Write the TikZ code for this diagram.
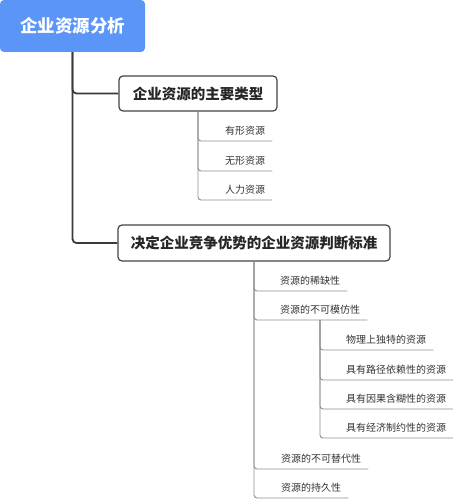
\documentclass[tikz,border=0pt]{standalone}
\usepackage{fontspec}
\setmainfont{Noto Sans CJK SC}
\definecolor{rootblue}{HTML}{5B95F7}
\definecolor{boxline}{HTML}{444444}
\definecolor{mainline}{HTML}{3A3A3A}
\definecolor{subline}{HTML}{8E8E8E}
\definecolor{itemtext}{HTML}{333333}
\tikzset{
  rootbox/.style={fill=rootblue, draw=none, rounded corners=4pt, text=white,
    font=\fontsize{17.5}{20}\selectfont\bfseries, minimum width=145pt, minimum height=52pt, inner sep=0pt},
  topicbox/.style={draw=boxline, line width=1.2pt, fill=white, rounded corners=4pt, text=black!85,
    font=\fontsize{14.5}{17}\selectfont\bfseries, inner sep=0pt},
  item/.style={anchor=south west, text=itemtext, font=\fontsize{10}{12}\selectfont,
    text height=9pt, text depth=6pt, inner ysep=0pt, inner xsep=7pt},
  mainconn/.style={draw=mainline, line width=1.8pt, rounded corners=4pt},
  subconn/.style={draw=subline, line width=0.9pt, rounded corners=3pt},
}
\begin{document}
\begin{tikzpicture}[x=1pt,y=1pt]
\useasboundingbox (0,0) rectangle (452,-500);
% main nodes
\node[rootbox] (root) at (72.5,-26) {企业资源分析};
\node[topicbox, minimum width=158pt, minimum height=35pt] (b1) at (198,-93.5) {企业资源的主要类型};
\node[topicbox, minimum width=272pt, minimum height=36pt] (b2) at (254,-243) {决定企业竞争优势的企业资源判断标准};
% items under b1
\node[item] (a1) at (218,-141) {有形资源};
\node[item] (a2) at (218,-171) {无形资源};
\node[item] (a3) at (218,-200) {人力资源};
% items under b2
\node[item] (c1) at (273,-291) {资源的稀缺性};
\node[item] (c2) at (273,-320) {资源的不可模仿性};
\node[item] (c3) at (274,-469) {资源的不可替代性};
\node[item] (c4) at (274,-498) {资源的持久性};
% items under c2
\coordinate (s2) at (320,-320);
\node[item] (d1) at (339,-350) {物理上独特的资源};
\node[item] (d2) at (339,-380) {具有路径依赖性的资源};
\node[item] (d3) at (339,-409) {具有因果含糊性的资源};
\node[item] (d4) at (339,-438) {具有经济制约性的资源};
% connectors
\draw[mainconn] (root.south) |- (b1.west);
\draw[mainconn] (root.south) |- (b2.west);
\foreach \n in {a1,a2,a3} \draw[subconn] (b1.south) |- (\n.south east);
\foreach \n in {c1,c2,c3,c4} \draw[subconn] (b2.south) |- (\n.south east);
\foreach \n in {d1,d2,d3,d4} \draw[subconn] (s2) |- (\n.south east);
\end{tikzpicture}
\end{document}
